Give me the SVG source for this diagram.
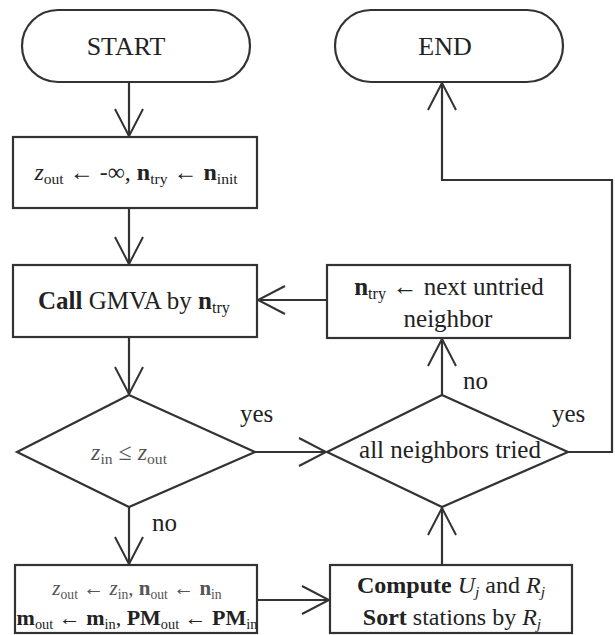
<svg xmlns="http://www.w3.org/2000/svg" width="615" height="635" viewBox="0 0 615 635">
<defs>
<marker id="arr" markerUnits="userSpaceOnUse" markerWidth="32" markerHeight="32" refX="29" refY="16" orient="auto">
<path d="M2,2 L29,16 L2,30" fill="none" stroke="#333" stroke-width="2"/>
</marker>
<style>
.shape{fill:#fff;stroke:#333;stroke-width:2.2}
.conn{fill:none;stroke:#333;stroke-width:2.2}
text{font-family:"Liberation Serif","Times New Roman",serif;fill:#222;text-anchor:middle}
.lbl{text-anchor:start;font-size:25px}
.b{font-weight:bold}
.i{font-style:italic}
.s{font-size:0.65em}
.g{fill:#555}
</style>
</defs>
<rect width="615" height="635" fill="#fff"/>
<g id="connectors">
<path class="conn" d="M129,82 V136" marker-end="url(#arr)"/>
<path class="conn" d="M129,208 V264" marker-end="url(#arr)"/>
<path class="conn" d="M129,337 V394" marker-end="url(#arr)"/>
<path class="conn" d="M129,507 V564" marker-end="url(#arr)"/>
<path class="conn" d="M255,452 H326" marker-end="url(#arr)"/>
<path class="conn" d="M257,600 H329" marker-end="url(#arr)"/>
<path class="conn" d="M442,565 V508" marker-end="url(#arr)"/>
<path class="conn" d="M442,395 V339" marker-end="url(#arr)"/>
<path class="conn" d="M327,300 H258" marker-end="url(#arr)"/>
<path class="conn" d="M568,452 H612 V180 H442 V83" marker-end="url(#arr)"/>
<text class="lbl" x="240" y="422">yes</text>
<text class="lbl" x="152" y="531">no</text>
<text class="lbl" x="463" y="389">no</text>
<text class="lbl" x="552" y="422">yes</text>
</g>
<g id="start">
<rect class="shape" x="22" y="10" width="228" height="72" rx="36"/>
<text x="126" y="55" font-size="26">START</text>
</g>
<g id="end">
<rect class="shape" x="335" y="10" width="228" height="72" rx="36"/>
<text x="445" y="55" font-size="26">END</text>
</g>
<g id="init">
<rect class="shape" x="13" y="137" width="244" height="71"/>
<text x="136" y="180" font-size="24"><tspan class="i">z</tspan><tspan class="s" dy="4">out</tspan><tspan dy="-4"> ← -∞, </tspan><tspan class="b">n</tspan><tspan class="s" dy="4">try</tspan><tspan dy="-4"> ← </tspan><tspan class="b">n</tspan><tspan class="s" dy="4">init</tspan></text>
</g>
<g id="call">
<rect class="shape" x="13" y="265" width="244" height="72"/>
<text x="134" y="309" font-size="25"><tspan class="b">Call</tspan> GMVA by <tspan class="b">n</tspan><tspan class="s" dy="4">try</tspan></text>
</g>
<g id="next">
<rect class="shape" x="327" y="265" width="243" height="73"/>
<text x="449" y="295" font-size="25"><tspan class="b">n</tspan><tspan class="s" dy="4">try</tspan><tspan dy="-4"> ← next untried</tspan></text>
<text x="448" y="327" font-size="25">neighbor</text>
</g>
<g id="cond1">
<polygon class="shape" points="129,395 255,452 129,507 17,452"/>
<text x="129" y="460" font-size="24" class="g"><tspan class="i">z</tspan><tspan class="s" dy="4">in</tspan><tspan dy="-4"> ≤ </tspan><tspan class="i">z</tspan><tspan class="s" dy="4">out</tspan></text>
</g>
<g id="cond2">
<polygon class="shape" points="442,395 568,452 442,507 327,452"/>
<text x="450" y="458" font-size="25">all neighbors tried</text>
</g>
<g id="update">
<rect class="shape" x="15" y="565" width="242" height="68"/>
<text x="137" y="595" font-size="21" class="g"><tspan class="i">z</tspan><tspan class="s" dy="4">out</tspan><tspan dy="-4"> ← </tspan><tspan class="i">z</tspan><tspan class="s" dy="4">in</tspan><tspan dy="-4">, </tspan><tspan class="b">n</tspan><tspan class="s" dy="4">out</tspan><tspan dy="-4"> ← </tspan><tspan class="b">n</tspan><tspan class="s" dy="4">in</tspan></text>
<text x="137" y="625" font-size="22"><tspan class="b">m</tspan><tspan class="s" dy="4">out</tspan><tspan dy="-4"> ← </tspan><tspan class="b">m</tspan><tspan class="s" dy="4">in</tspan><tspan dy="-4">, </tspan><tspan class="b">PM</tspan><tspan class="s" dy="4">out</tspan><tspan dy="-4"> ← </tspan><tspan class="b">PM</tspan><tspan class="s" dy="4">in</tspan></text>
</g>
<g id="compute">
<rect class="shape" x="330" y="565" width="242" height="68"/>
<text x="451" y="593" font-size="24"><tspan class="b">Compute</tspan> <tspan class="i">U</tspan><tspan class="s i" dy="4">j</tspan><tspan dy="-4"> and </tspan><tspan class="i">R</tspan><tspan class="s i" dy="4">j</tspan></text>
<text x="452" y="625" font-size="24"><tspan class="b">Sort</tspan> stations by <tspan class="i">R</tspan><tspan class="s i" dy="4">j</tspan></text>
</g>
</svg>
